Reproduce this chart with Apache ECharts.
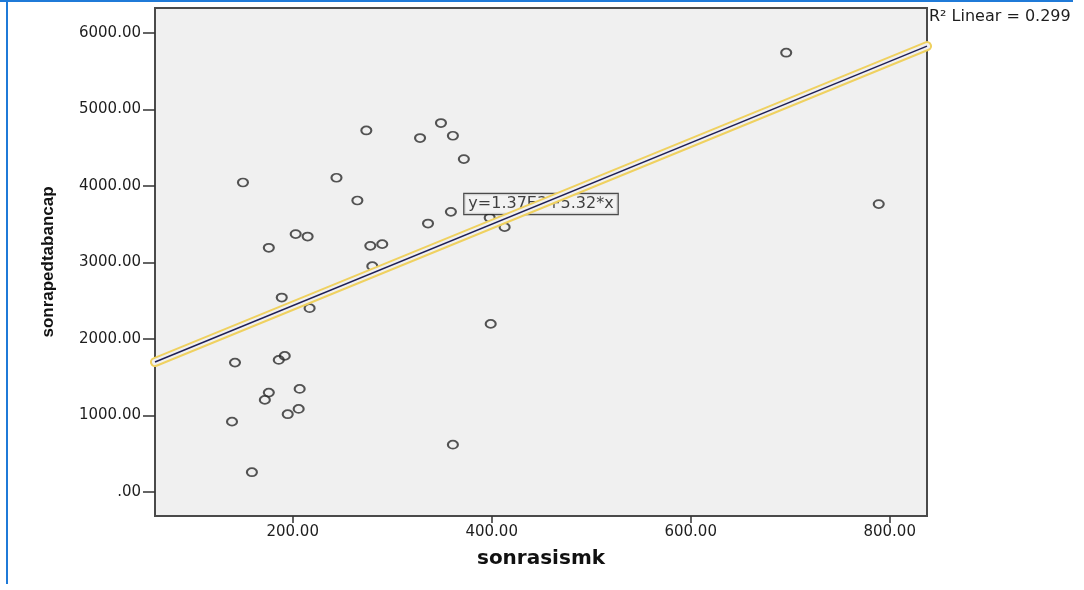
<!DOCTYPE html>
<html>
<head>
<meta charset="utf-8">
<script src="https://cdn.jsdelivr.net/npm/echarts@6/dist/echarts.min.js"></script>
<style>
html,body{margin:0;padding:0;background:#fff;}
#chart{width:1084px;height:590px;}
</style>
</head>
<body>
<div id="chart"></div>
<script>
// ---- data ----
const xName = 'sonrasismk';
const yName = 'sonrapedtabancap';
const xValues = [696, 789, 150, 244, 274, 328, 349, 361, 372, 265, 359, 336, 398, 413, 203, 215, 176, 278, 290, 280, 189, 217, 399, 142, 186, 192, 176, 172, 207, 206, 195, 139, 361, 159];
const yValues = [5739, 3761, 4043, 4105, 4723, 4624, 4820, 4654, 4349, 3808, 3660, 3507, 3582, 3460, 3369, 3337, 3190, 3216, 3238, 2950, 2540, 2401, 2196, 1690, 1725, 1778, 1298, 1203, 1346, 1085, 1016, 919, 618, 258];
const xTicks = [200, 400, 600, 800];
const yTicks = [0, 1000, 2000, 3000, 4000, 5000, 6000];
const xRange = [61.6, 837.5];
const yRange = [-314, 6323];
const fitIntercept = 1370;
const fitSlope = 5.32;
const fitLabel = 'y=1.37E3+5.32*x';
const r2Label = 'R² Linear = 0.299';

// ---- build ----
const points = xValues.map((x, i) => [x, yValues[i]]);
const fitLine = xRange.map(x => [x, fitIntercept + fitSlope * x]);
const midX = (xRange[0] + xRange[1]) / 2;
const midPoint = [[midX, fitIntercept + fitSlope * midX]];
const fmt = v => (v === 0 ? '.00' : v.toFixed(2));

const chart = echarts.init(document.getElementById('chart'), null, {renderer: 'canvas'});
const axisLabelStyle = {color: '#1e1e1e', fontSize: 15, fontFamily: 'DejaVu Sans'};
chart.setOption({
  animation: false,
  textStyle: {fontFamily: 'DejaVu Sans'},
  graphic: [
    {type: 'rect', left: 0, top: 0, shape: {width: 1073, height: 2}, style: {fill: '#1f7ad8'}, silent: true},
    {type: 'rect', left: 6, top: 0, shape: {width: 2, height: 584}, style: {fill: '#1f7ad8'}, silent: true},
    {type: 'text', left: 929, top: 9, style: {text: r2Label, fill: '#1e1e1e', fontSize: 16, fontFamily: 'DejaVu Sans'}, silent: true}
  ],
  grid: {left: 155, top: 8, right: 157, bottom: 74, show: true, backgroundColor: '#f0f0f0', borderColor: '#4a4a4a', borderWidth: 2},
  xAxis: {
    type: 'value', min: xRange[0], max: xRange[1],
    name: xName, nameLocation: 'middle', nameGap: 33,
    nameTextStyle: {fontSize: 20, fontWeight: 'bold', color: '#111', fontFamily: 'DejaVu Sans'},
    axisLine: {show: false, onZero: false},
    splitLine: {show: false},
    axisTick: {show: true, length: 7, customValues: xTicks, lineStyle: {color: '#333', width: 1.5}},
    axisLabel: Object.assign({customValues: xTicks, formatter: fmt, margin: 9}, axisLabelStyle)
  },
  yAxis: {
    type: 'value', min: yRange[0], max: yRange[1],
    name: yName, nameLocation: 'middle', nameGap: 98, nameRotate: 90,
    nameTextStyle: {fontSize: 17, fontWeight: 'bold', color: '#111', fontFamily: 'Liberation Sans'},
    axisLine: {show: false, onZero: false},
    splitLine: {show: false},
    axisTick: {show: true, length: 12, customValues: yTicks, lineStyle: {color: '#333', width: 1.5}},
    axisLabel: Object.assign({customValues: yTicks, formatter: fmt, margin: 14}, axisLabelStyle)
  },
  series: [
    {
      type: 'scatter', name: 'points', data: points, z: 2,
      symbol: 'circle', symbolSize: [10, 8],
      itemStyle: {color: 'rgba(0,0,0,0)', borderColor: '#2a2a2a', borderWidth: 1.9},
      silent: true
    },
    {
      type: 'scatter', name: 'fitLabel', data: midPoint, z: 3, symbolSize: 0,
      label: {show: true, position: 'inside', formatter: fitLabel, fontSize: 16, color: '#111',
        fontFamily: 'DejaVu Sans', backgroundColor: '#f2f2f2', borderColor: '#222', borderWidth: 1.2, padding: [2, 4]},
      silent: true
    },
    {
      type: 'line', name: 'fitOuter', data: fitLine, z: 4, symbol: 'none', clip: false,
      lineStyle: {color: '#efd160', width: 10, cap: 'round'}, silent: true
    },
    {
      type: 'line', name: 'fitInner', data: fitLine, z: 5, symbol: 'none', clip: false,
      lineStyle: {color: '#f0f0f0', width: 6, cap: 'round'}, silent: true
    },
    {
      type: 'line', name: 'fit', data: fitLine, z: 6, symbol: 'none',
      lineStyle: {color: '#1f1f55', width: 1.5}, silent: true
    }
  ]
});
</script>
</body>
</html>
